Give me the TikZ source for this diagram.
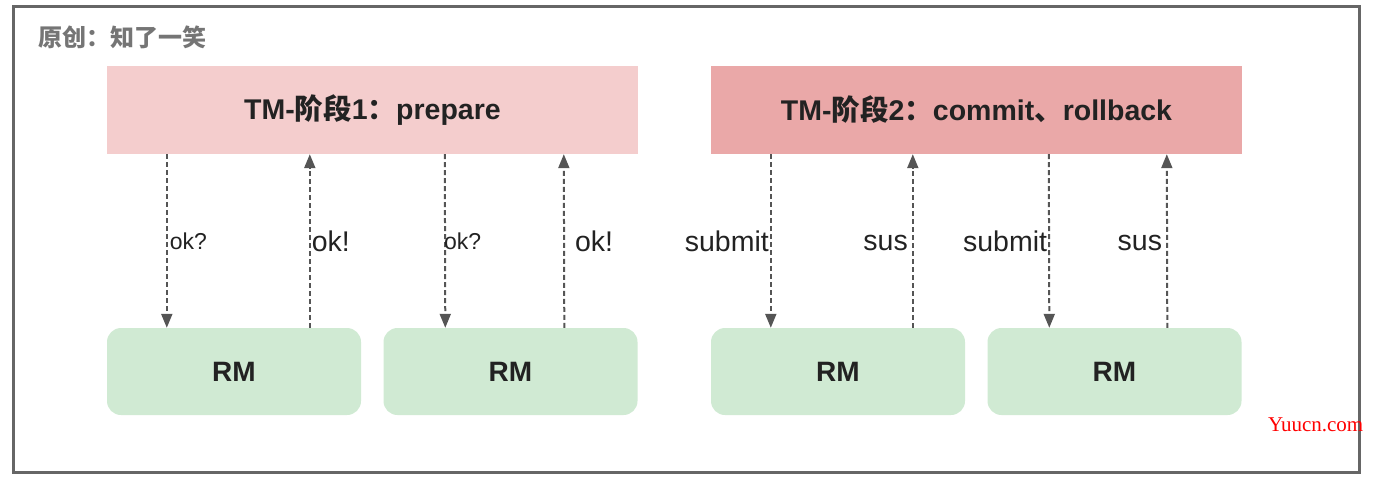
\documentclass[tikz,border=0pt]{standalone}
\usepackage{fontspec}
\setmainfont{Liberation Sans}
\newfontfamily\cjk{Noto Sans CJK SC}
\newfontfamily\wmfont{Liberation Serif}
\usetikzlibrary{arrows.meta}
\definecolor{frame}{HTML}{666666}
\definecolor{tmone}{HTML}{F4CDCD}
\definecolor{tmtwo}{HTML}{EAA8A8}
\definecolor{rmfill}{HTML}{D0EAD3}
\definecolor{txt}{HTML}{222222}
\definecolor{arr}{HTML}{555555}
\tikzset{
  tmbox/.style={minimum width=531pt, minimum height=88pt, inner sep=0pt, draw=none, text=txt, font=\fontsize{28.5}{32}\selectfont\bfseries},
  rmbox/.style={fill=rmfill, rounded corners=14pt, minimum width=254pt, minimum height=87pt, inner sep=0pt, text=txt, font=\fontsize{28}{32}\selectfont\bfseries},
  dasharrow/.style={arr, line width=2pt, dash pattern=on 5pt off 3pt, -{Triangle[width=11pt,length=14pt]}},
  smalllbl/.style={text=txt, font=\fontsize{23}{26}\selectfont, inner sep=2pt},
  biglbl/.style={text=txt, font=\fontsize{28.5}{32}\selectfont, inner sep=2pt}
}
\begin{document}
\begin{tikzpicture}[x=1pt,y=-1pt]
\useasboundingbox (0,0) rectangle (1376,480);
\node[draw=frame, line width=3pt, minimum width=1346pt, minimum height=466pt, inner sep=0pt] (frame) at (686,239) {};
\node[anchor=west, text=frame!90, font=\cjk\fontsize{24}{26}\selectfont\bfseries, inner sep=0pt] (title) at (38,37) {原创：知了一笑};

\node[tmbox, fill=tmone] (tm1) at (372.5,110) {TM-{\cjk 阶段}1{\cjk ：}prepare};
\node[tmbox, fill=tmtwo] (tm2) at (976.5,110) {TM-{\cjk 阶段}2{\cjk ：}commit{\cjk 、}rollback};

\node[rmbox] (rm1) at (234,371.5) {RM};
\node[rmbox] (rm2) at (510.5,371.5) {RM};
\node[rmbox] (rm3) at (838,371.5) {RM};
\node[rmbox] (rm4) at (1114.5,371.5) {RM};

% group 1
\draw[dasharrow] ([xshift=60pt]tm1.south west) -- node[smalllbl, anchor=west, pos=0.5] {ok?} ([xshift=60pt]rm1.north west);
\draw[dasharrow] ([xshift=203pt]rm1.north west) -- node[biglbl, anchor=west, pos=0.5, xshift=-1pt] {ok!} ([xshift=203pt]tm1.south west);
\draw[dasharrow] ([xshift=338pt]tm1.south west) -- node[smalllbl, anchor=west, pos=0.5, xshift=-4pt] {ok?} ([xshift=62pt]rm2.north west);
\draw[dasharrow] ([xshift=181pt]rm2.north west) -- node[biglbl, anchor=west, pos=0.5, xshift=8pt] {ok!} ([xshift=457pt]tm1.south west);

% group 2
\draw[dasharrow] ([xshift=60pt]tm2.south west) -- node[biglbl, anchor=east, pos=0.5, xshift=1pt] {submit} ([xshift=60pt]rm3.north west);
\draw[dasharrow] ([xshift=202pt]rm3.north west) -- node[biglbl, anchor=east, pos=0.5, xshift=-2pt, yshift=-2pt] {sus} ([xshift=202pt]tm2.south west);
\draw[dasharrow] ([xshift=338pt]tm2.south west) -- node[biglbl, anchor=east, pos=0.5, xshift=1pt] {submit} ([xshift=62pt]rm4.north west);
\draw[dasharrow] ([xshift=180pt]rm4.north west) -- node[biglbl, anchor=east, pos=0.5, xshift=-2pt, yshift=-2pt] {sus} ([xshift=456pt]tm2.south west);

\node[text=red, font=\wmfont\fontsize{21}{24}\selectfont, anchor=west, inner sep=0pt] (wm) at (1268,425) {Yuucn.com};
\end{tikzpicture}
\end{document}
